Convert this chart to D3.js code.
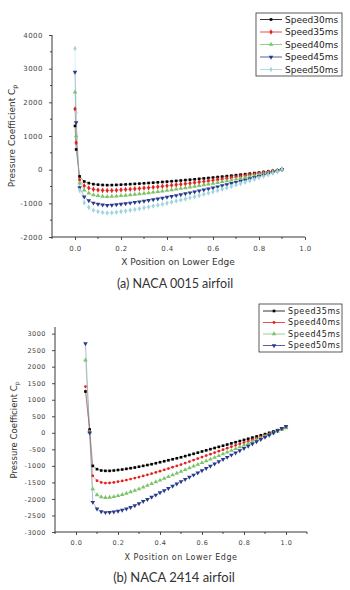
<!DOCTYPE html>
<html><head><meta charset="utf-8">
<script src="https://cdn.jsdelivr.net/npm/d3@7"></script>
<style>body{margin:0;background:#fff}svg{display:block}</style>
</head><body>
<svg id="c" width="350" height="590"></svg>
<script>
// ---------- DATA: (a) NACA 0015 ----------
const topNames = ["Speed30ms","Speed35ms","Speed40ms","Speed45ms","Speed50ms"];
const topX = [0,0.005,0.02,0.04,0.06,0.08,0.10,0.12,0.14,0.16,0.18,0.20,0.22,0.24,0.26,0.28,0.30,0.32,0.34,0.36,0.38,0.40,0.42,0.44,0.46,0.48,0.50,0.52,0.54,0.56,0.58,0.60,0.62,0.64,0.66,0.68,0.70,0.72,0.74,0.76,0.78,0.80,0.82,0.84,0.86,0.88,0.90];
const topS30 = [1300,600,-200,-350,-400,-430,-445,-455,-460,-458,-452,-445,-438,-430,-422,-414,-405,-396,-386,-376,-366,-355,-344,-333,-322,-310,-298,-286,-273,-260,-247,-234,-220,-206,-192,-178,-163,-148,-133,-118,-102,-86,-70,-53,-36,-18,10];
const topS35 = [1800,800,-300,-480,-545,-585,-605,-615,-620,-618,-610,-600,-590,-580,-570,-560,-547,-535,-521,-508,-494,-479,-464,-450,-435,-418,-402,-386,-369,-351,-333,-316,-297,-278,-259,-240,-220,-200,-180,-159,-138,-116,-95,-72,-49,-24,10];
const topS40 = [2300,1000,-400,-610,-696,-748,-774,-792,-800,-797,-786,-774,-762,-748,-734,-720,-705,-689,-672,-654,-637,-618,-599,-579,-560,-539,-519,-498,-475,-452,-430,-407,-383,-358,-334,-310,-284,-258,-231,-205,-177,-150,-122,-92,-63,-31,10];
const topS45 = [2900,1400,-530,-805,-920,-989,-1024,-1047,-1058,-1053,-1040,-1024,-1007,-989,-971,-952,-932,-911,-888,-865,-842,-817,-791,-766,-741,-713,-685,-658,-628,-598,-568,-538,-506,-474,-442,-409,-375,-340,-306,-271,-235,-198,-161,-122,-83,-41,10];
const topS50 = [3600,1700,-620,-980,-1120,-1204,-1246,-1274,-1288,-1282,-1266,-1246,-1226,-1204,-1182,-1159,-1134,-1109,-1081,-1053,-1025,-994,-963,-932,-902,-868,-834,-801,-764,-728,-692,-655,-616,-577,-538,-498,-456,-414,-372,-330,-286,-241,-196,-148,-101,-50,10];
const topYTicks = [-2000,-1000,0,1000,2000,3000,4000];
const topYTickLabels = ["-2000","-1000","0","1000","2000","3000","4000"];
const topXTicks = [0,0.2,0.4,0.6,0.8,1.0];
const topXTickLabels = ["0.0","0.2","0.4","0.6","0.8","1.0"];

// ---------- DATA: (b) NACA 2414 ----------
const botNames = ["Speed35ms","Speed40ms","Speed45ms","Speed50ms"];
const botX = [0.045,0.065,0.08,0.10,0.12,0.14,0.16,0.18,0.20,0.22,0.24,0.26,0.28,0.30,0.32,0.34,0.36,0.38,0.40,0.42,0.44,0.46,0.48,0.50,0.52,0.54,0.56,0.58,0.60,0.62,0.64,0.66,0.68,0.70,0.72,0.74,0.76,0.78,0.80,0.82,0.84,0.86,0.88,0.90,0.92,0.94,0.96,0.98,1.00];
const botS35 = [1250,100,-1000,-1100,-1140,-1150,-1150,-1140,-1125,-1110,-1090,-1070,-1050,-1025,-1000,-975,-950,-920,-890,-860,-830,-800,-770,-740,-705,-670,-635,-600,-565,-530,-495,-460,-425,-390,-355,-320,-285,-250,-215,-180,-145,-110,-75,-40,0,40,80,120,160];
const botS40 = [1400,50,-1300,-1450,-1500,-1520,-1515,-1500,-1480,-1455,-1430,-1400,-1370,-1340,-1305,-1270,-1235,-1200,-1160,-1120,-1080,-1040,-1000,-960,-915,-870,-825,-780,-735,-690,-645,-600,-555,-510,-465,-420,-378,-336,-294,-252,-210,-168,-126,-84,-42,0,50,100,150];
const botS45 = [2200,20,-1700,-1880,-1940,-1960,-1955,-1935,-1905,-1870,-1832,-1790,-1746,-1700,-1647,-1594,-1541,-1488,-1436,-1383,-1330,-1277,-1224,-1171,-1118,-1065,-1012,-960,-907,-854,-801,-748,-695,-642,-589,-536,-483,-430,-378,-325,-272,-219,-166,-113,-60,-7,46,99,150];
const botS50 = [2700,0,-2100,-2300,-2380,-2410,-2405,-2390,-2370,-2340,-2300,-2255,-2200,-2140,-2075,-2010,-1945,-1880,-1810,-1745,-1678,-1610,-1543,-1476,-1410,-1342,-1275,-1208,-1140,-1073,-1006,-940,-872,-805,-738,-670,-604,-537,-470,-403,-336,-268,-200,-134,-67,0,67,134,200];
const botYTicks = [-3000,-2500,-2000,-1500,-1000,-500,0,500,1000,1500,2000,2500,3000];
const botYTickLabels = ["-3000","-2500","-2000","-1500","-1000","-500","0","500","1000","1500","2000","2500","3000"];
const botXTicks = [0,0.2,0.4,0.6,0.8,1.0];
const botXTickLabels = ["0.0","0.2","0.4","0.6","0.8","1.0"];

// ---------- STYLE ----------
const topColors = ["#000000","#e3221e","#7cc36a","#283a8c","#9fd4dc"];
const topSymbols = ["square","diamond","tri","tridown","star"];
const botColors = ["#000000","#e3221e","#7cc36a","#283a8c"];
const botSymbols = ["square","circle","tri","tridown"];

const svg = d3.select("#c");
const FONT = "'DejaVu Sans', Arial, sans-serif";

function symPath(kind){
  const map = {square:d3.symbolSquare, diamond:d3.symbolDiamond, circle:d3.symbolCircle, tri:d3.symbolTriangle, tridown:d3.symbolTriangle, star:d3.symbolDiamond};
  return d3.symbol().type(map[kind]).size(kind==="square"?7:kind==="circle"?6:9)();
}
function marker(g, kind, x, y, color){
  g.append("path").attr("d", symPath(kind))
    .attr("transform", `translate(${x},${y})` + (kind==="tridown"?" rotate(180)":""))
    .attr("fill", color);
}

function drawChart(opt){
  const {xDom, xRange, yDom, yRange, xTicks, xTickLabels, yTicks, yTickLabels, xMinor, yMinor, series, names, colors, symbols, yAxisTop, tickFont, legend} = opt;
  const x = d3.scaleLinear().domain(xDom).range(xRange);
  const y = d3.scaleLinear().domain(yDom).range(yRange);
  const g = svg.append("g");
  const xAx = d3.axisBottom(x).tickValues(xTicks).tickFormat((d,i)=>xTickLabels[i]).tickSize(3).tickSizeOuter(0);
  const yAx = d3.axisLeft(y).tickValues(yTicks).tickFormat((d,i)=>yTickLabels[i]).tickSize(3).tickSizeOuter(0);
  const gx = g.append("g").attr("transform",`translate(0,${yRange[0]})`).call(xAx);
  const gy = g.append("g").attr("transform",`translate(${xRange[0]},0)`).call(yAx);
  [gx,gy].forEach(a=>{
    a.select(".domain").remove();
    a.selectAll(".tick line").attr("stroke","#222").attr("stroke-width",0.8);
    a.selectAll("text").attr("fill","#444").style("font-family",FONT).style("font-size",tickFont+"px").style("letter-spacing","0.5px");
  });
  gx.selectAll("text").attr("dy","1.1em");
  gy.selectAll("text").attr("dx","-3");
  g.append("g").selectAll("line").data(xMinor).join("line")
    .attr("x1",d=>x(d)).attr("x2",d=>x(d)).attr("y1",yRange[0]).attr("y2",yRange[0]+2)
    .attr("stroke","#222").attr("stroke-width",0.8);
  g.append("g").selectAll("line").data(yMinor).join("line")
    .attr("x1",xRange[0]-2).attr("x2",xRange[0]).attr("y1",d=>y(d)).attr("y2",d=>y(d))
    .attr("stroke","#222").attr("stroke-width",0.8);
  g.append("line").attr("x1",xRange[0]).attr("x2",xRange[1]).attr("y1",yRange[0]).attr("y2",yRange[0]).attr("stroke","#222").attr("stroke-width",0.9);
  g.append("line").attr("x1",xRange[0]).attr("x2",xRange[0]).attr("y1",yRange[0]).attr("y2",yAxisTop).attr("stroke","#222").attr("stroke-width",0.9);
  series.forEach((s,i)=>{
    const pts = s.xs.map((xv,k)=>[xv,s.ys[k]]).filter(p=>p[1]!==undefined);
    g.append("path").datum(pts)
      .attr("d", d3.line().x(p=>x(p[0])).y(p=>y(p[1])))
      .attr("fill","none").attr("stroke",colors[i]).attr("stroke-width",0.5).attr("stroke-opacity",0.7);
  });
  series.forEach((s,i)=>{
    const pts = s.xs.map((xv,k)=>[xv,s.ys[k]]).filter(p=>p[1]!==undefined);
    pts.forEach(p=>marker(g, symbols[i], x(p[0]), y(p[1]), colors[i]));
  });
  const L = legend;
  g.append("rect").attr("x",L.x).attr("y",L.y).attr("width",L.w).attr("height",L.h)
    .attr("fill","#fff").attr("stroke","#333").attr("stroke-width",0.8);
  names.forEach((n,i)=>{
    const yy = L.y + L.first + i*L.step;
    g.append("line").attr("x1",L.x+4).attr("x2",L.x+26).attr("y1",yy).attr("y2",yy)
      .attr("stroke",colors[i]).attr("stroke-width",0.8);
    marker(g, symbols[i], L.x+15, yy, colors[i]);
    g.append("text").attr("x",L.x+29).attr("y",yy).attr("dy","0.35em")
      .style("font-family",FONT).style("font-size",L.font+"px").style("letter-spacing",L.ls+"px")
      .attr("fill","#222").text(n);
  });
  return {x,y};
}

drawChart({
  xDom:[-0.1,1.0], xRange:[52,305], yDom:[-2000,4000], yRange:[237,35], yAxisTop:35,
  xTicks:topXTicks, xTickLabels:topXTickLabels, yTicks:topYTicks, yTickLabels:topYTickLabels,
  xMinor:[-0.1,0.1,0.3,0.5,0.7,0.9], yMinor:[-1500,-500,500,1500,2500,3500], tickFont:7,
  series:[topS30,topS35,topS40,topS45,topS50].map(ys=>({xs:topX, ys})),
  names:topNames, colors:topColors, symbols:topSymbols,
  legend:{x:256,y:13,w:86,h:63,first:6.5,step:12.5,font:9,ls:0}
});
drawChart({
  xDom:[-0.1,1.1], xRange:[55,307], yDom:[-3000,3200], yRange:[532,327], yAxisTop:327,
  xTicks:botXTicks, xTickLabels:botXTickLabels, yTicks:botYTicks, yTickLabels:botYTickLabels,
  xMinor:[-0.1,0.1,0.3,0.5,0.7,0.9,1.1], yMinor:[], tickFont:6.5,
  series:[botS35,botS40,botS45,botS50].map(ys=>({xs:botX, ys})),
  names:botNames, colors:botColors, symbols:botSymbols,
  legend:{x:259,y:304,w:83,h:48,first:7,step:11.5,font:8,ls:0.6}
});

function yLabel(cx, cy, size){
  const t = svg.append("text").attr("transform",`translate(${cx},${cy}) rotate(-90)`)
    .attr("text-anchor","middle").style("font-family",FONT).style("font-size",size+"px").attr("fill","#333");
  t.append("tspan").text("Pressure Coefficient C");
  t.append("tspan").attr("dy","0.35em").style("font-size",(size*0.7)+"px").text("p");
}
yLabel(15,136,9);
yLabel(17,430,8.5);
svg.append("text").attr("x",178).attr("y",265).attr("text-anchor","middle")
  .style("font-family",FONT).style("font-size","9px").attr("fill","#333").text("X Position on Lower Edge");
svg.append("text").attr("x",175).attr("y",288).attr("text-anchor","middle")
  .style("font-family","Lato, 'DejaVu Sans', sans-serif").style("font-size","12.5px").attr("fill","#333").text("(a) NACA 0015 airfoil");
svg.append("text").attr("x",181).attr("y",560).attr("text-anchor","middle")
  .style("font-family",FONT).style("font-size","8px").style("letter-spacing","0.5px").attr("fill","#333").text("X Position on Lower Edge");
svg.append("text").attr("x",174).attr("y",582).attr("text-anchor","middle")
  .style("font-family","Lato, 'DejaVu Sans', sans-serif").style("font-size","13px").attr("fill","#333").text("(b) NACA 2414 airfoil");
</script>
</body></html>
